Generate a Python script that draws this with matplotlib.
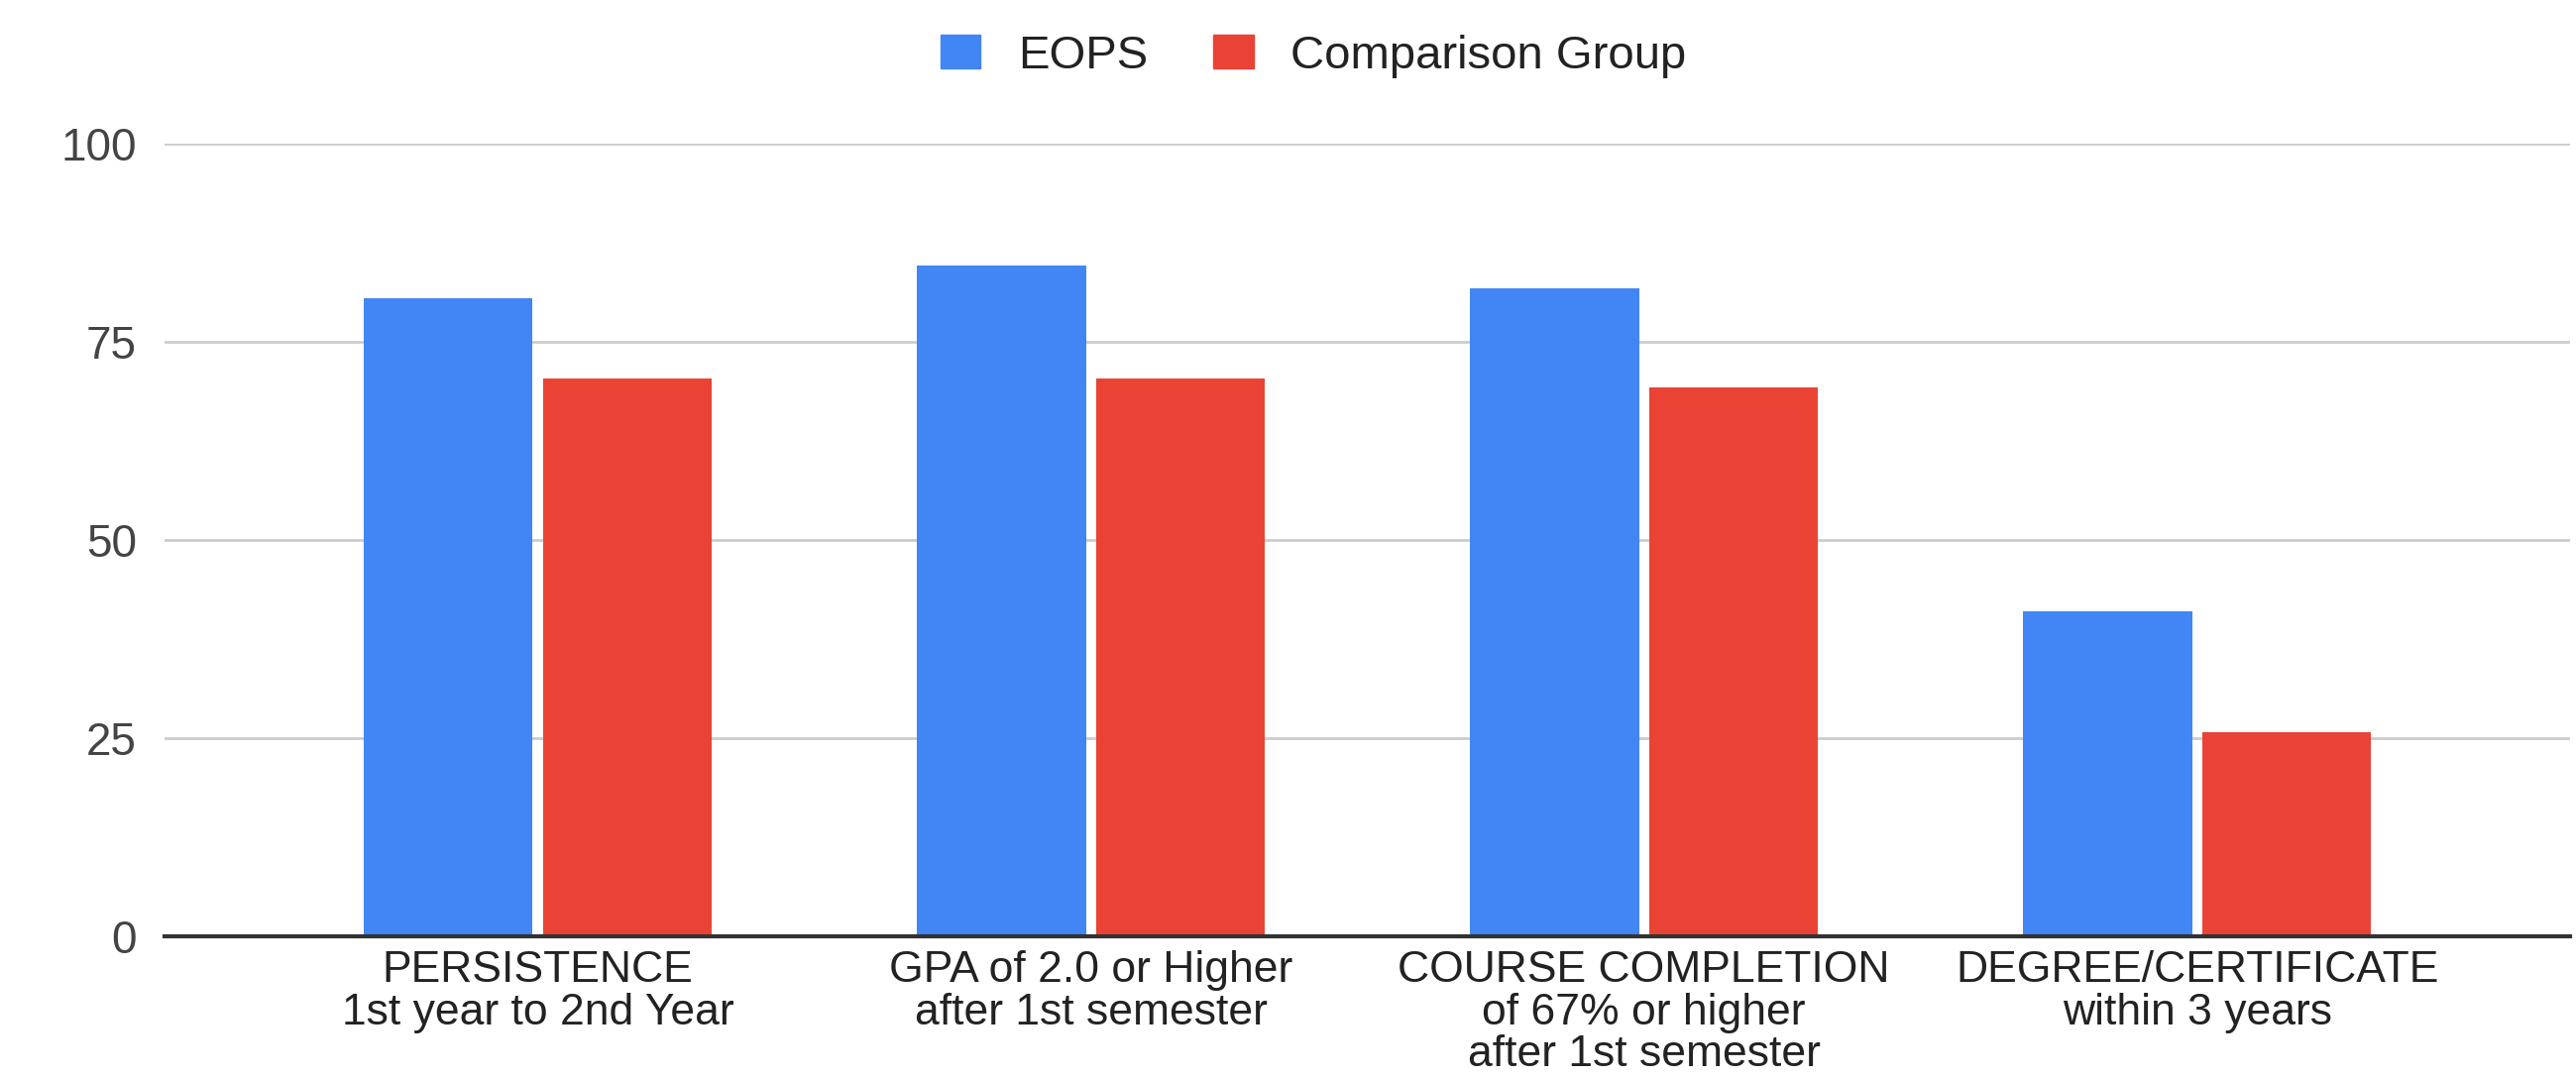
import numpy as np
import matplotlib.pyplot as plt
from matplotlib.patches import Patch

categories = [
    "PERSISTENCE\n1st year to 2nd Year",
    "GPA of 2.0 or Higher\nafter 1st semester",
    "COURSE COMPLETION\nof 67% or higher\nafter 1st semester",
    "DEGREE/CERTIFICATE\nwithin 3 years",
]
eops = [80.5, 84.6, 81.7, 41.0]
comparison = [70.4, 70.4, 69.2, 25.8]
series_names = ["EOPS", "Comparison Group"]
yticks = [0, 25, 50, 75, 100]

BLUE = "#4285F4"
RED = "#EA4335"

plt.rcParams["font.family"] = ["Liberation Sans", "DejaVu Sans"]

fig = plt.figure(figsize=(25.99, 10.88), dpi=100)
ax = fig.add_axes([0.0638, 0.131, 0.934, 0.736])

x = np.arange(len(categories))
w = 0.306
ax.bar(x - 0.162, eops, width=w, color=BLUE, zorder=3)
ax.bar(x + 0.162, comparison, width=w, color=RED, zorder=3)

ax.set_xlim(-0.675, 3.675)
ax.set_ylim(0, 100)
ax.set_yticks(yticks)
ax.set_xticks(x)
ax.set_xticklabels(categories, fontsize=32, color="#222222", linespacing=1.04)
ax.tick_params(axis="y", labelsize=33, labelcolor="#444444", length=0, pad=20)
ax.tick_params(axis="x", length=0, pad=10)

ax.grid(axis="y", color="#cccccc", linewidth=2, zorder=0)
for s in ["top", "right", "left"]:
    ax.spines[s].set_visible(False)
ax.spines["bottom"].set_color("#333333")
ax.spines["bottom"].set_linewidth(3)
ax.spines["bottom"].set_zorder(4)

handles = [Patch(color=BLUE), Patch(color=RED)]
fig.legend(handles, series_names, loc="center", bbox_to_anchor=(0.51, 0.948),
           ncol=2, frameon=False, fontsize=34, handlelength=0.85, handleheight=0.75,
           columnspacing=1.4, handletextpad=0.8, labelcolor="#222222")

fig.savefig("out.png", dpi=100, facecolor="white")
